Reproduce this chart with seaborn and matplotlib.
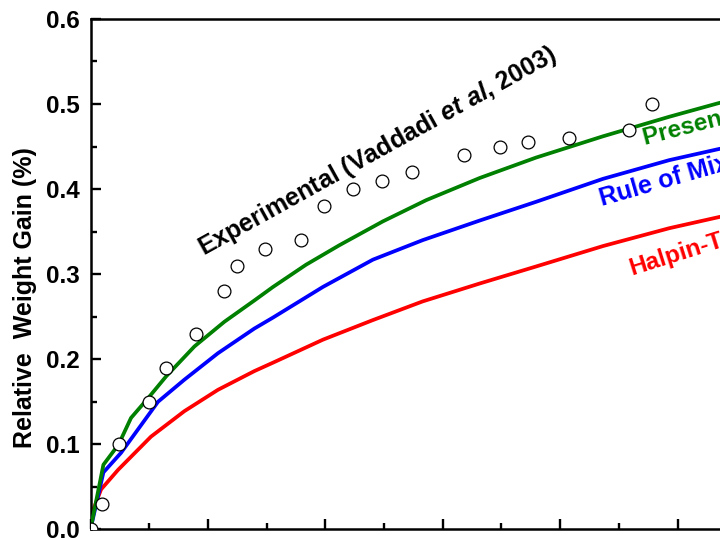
import numpy as np
import pandas as pd
import matplotlib
matplotlib.use("Agg")
import matplotlib.pyplot as plt
import seaborn as sns

# ---------------- data ----------------
x_exp = [0.0, 0.19, 0.48, 0.99, 1.28, 1.79, 2.28, 2.49, 2.98, 3.58, 3.97,
         4.48, 4.97, 5.47, 6.37, 6.97, 7.46, 8.16, 9.17, 9.57]
y_exp = [0.0, 0.03, 0.10, 0.15, 0.19, 0.23, 0.28, 0.31, 0.33, 0.34, 0.38,
         0.40, 0.41, 0.42, 0.44, 0.45, 0.455, 0.46, 0.47, 0.50]

x_present = [0.0, 0.22, 0.48, 0.69, 0.99, 1.29, 1.77, 2.28, 2.79, 3.11, 3.67,
             4.24, 4.98, 5.72, 6.63, 7.59, 8.73, 9.86, 10.70, 11.5]
y_present = [0.0, 0.076, 0.100, 0.131, 0.155, 0.180, 0.215, 0.244, 0.269, 0.285,
             0.311, 0.334, 0.362, 0.387, 0.413, 0.437, 0.462, 0.485, 0.501, 0.514]

x_rom = [0.0, 0.22, 0.52, 1.15, 1.60, 2.17, 2.79, 3.11, 3.96, 4.81, 5.66,
         6.63, 7.59, 8.73, 9.86, 10.70, 11.5]
y_rom = [0.0, 0.067, 0.090, 0.150, 0.176, 0.207, 0.236, 0.249, 0.285, 0.317,
         0.340, 0.363, 0.385, 0.412, 0.434, 0.447, 0.458]

x_ht = [0.0, 0.03, 0.18, 0.47, 1.03, 1.60, 2.17, 2.79, 3.11, 3.96, 4.81, 5.66,
        6.63, 7.59, 8.73, 9.86, 10.70, 11.5]
y_ht = [0.0, 0.020, 0.047, 0.070, 0.109, 0.139, 0.164, 0.186, 0.196, 0.223,
        0.246, 0.268, 0.289, 0.309, 0.333, 0.354, 0.367, 0.378]

y_ticks = [0.0, 0.1, 0.2, 0.3, 0.4, 0.5, 0.6]
y_tick_labels = ["0.0", "0.1", "0.2", "0.3", "0.4", "0.5", "0.6"]

label_exp = r"Experimental (Vaddadi $\mathit{et\ al}$, 2003)"
label_present = "Present Model"
label_rom = "Rule of Mixtures"
label_ht = "Halpin-Tsai"
y_label = "Relative  Weight Gain (%)"

# ---------------- style ----------------
sns.set_style("ticks")
plt.rcParams["font.family"] = ["Liberation Sans", "DejaVu Sans"]
plt.rcParams["font.weight"] = "bold"
plt.rcParams["mathtext.fontset"] = "custom"
plt.rcParams["mathtext.rm"] = "Liberation Sans:bold"
plt.rcParams["mathtext.it"] = "Liberation Sans:italic:bold"
plt.rcParams["mathtext.bf"] = "Liberation Sans:bold"
for k in ["text.color", "axes.labelcolor", "axes.edgecolor", "xtick.color", "ytick.color"]:
    plt.rcParams[k] = "black"

fig = plt.figure(figsize=(7.2, 5.39), dpi=100)
W, H = 720, 539
x0_px, y0_px, ytop_px = 90.5, 529.4, 18.9
unit_px = 58.7
xmax = 12.0
ax = fig.add_axes([x0_px / W, (H - y0_px) / H,
                   xmax * unit_px / W, (y0_px - ytop_px) / H])

green, blue, red = "#008000", "#0000FF", "#FF0000"
lw = 2.7

df_p = pd.DataFrame({"x": x_present, "y": y_present})
df_r = pd.DataFrame({"x": x_rom, "y": y_rom})
df_h = pd.DataFrame({"x": x_ht, "y": y_ht})
df_e = pd.DataFrame({"x": x_exp, "y": y_exp})

sns.lineplot(data=df_h, x="x", y="y", color=red, lw=lw, ax=ax, sort=False, zorder=2)
sns.lineplot(data=df_r, x="x", y="y", color=blue, lw=lw, ax=ax, sort=False, zorder=3)
sns.lineplot(data=df_p, x="x", y="y", color=green, lw=lw, ax=ax, sort=False, zorder=4)
sns.scatterplot(data=df_e, x="x", y="y", marker="o", s=85, facecolor="white",
                edgecolor="black", linewidth=0.9, ax=ax, zorder=5)

ax.set_xlim(0, xmax)
ax.set_ylim(0, 0.6)
ax.set_yticks(y_ticks)
ax.set_yticklabels(y_tick_labels)
ax.set_yticks(np.arange(0.05, 0.6, 0.1), minor=True)
ax.set_xticks(np.arange(0, xmax + 0.1, 2))
ax.set_xticks(np.arange(1, xmax, 2), minor=True)

for s in ax.spines.values():
    s.set_linewidth(1.8)
    s.set_visible(True)

ax.tick_params(axis="both", which="major", direction="in", length=7, width=1.7,
               labelsize=17.5, pad=8)
ax.tick_params(axis="both", which="minor", direction="in", length=4, width=1.7)
ax.tick_params(top=False, right=False)
for t in ax.get_yticklabels():
    t.set_fontweight("bold")

ax.set_xlabel("")
ax.set_ylabel(y_label, fontsize=18, fontweight="bold")
ax.yaxis.set_label_coords(-0.076, 0.455)

ax.text(1.92, 0.321, label_exp, rotation=29, rotation_mode="anchor",
        ha="left", va="baseline", fontsize=18, fontweight="bold", color="black")
ax.text(9.45, 0.452, label_present, rotation=14.5, rotation_mode="anchor",
        ha="left", va="baseline", fontsize=17.5, fontweight="bold", color=green)
ax.text(8.71, 0.380, label_rom, rotation=16, rotation_mode="anchor",
        ha="left", va="baseline", fontsize=18, fontweight="bold", color=blue)
ax.text(9.22, 0.299, label_ht, rotation=17.5, rotation_mode="anchor",
        ha="left", va="baseline", fontsize=17.5, fontweight="bold", color=red)

fig.savefig("out.png", dpi=100)
